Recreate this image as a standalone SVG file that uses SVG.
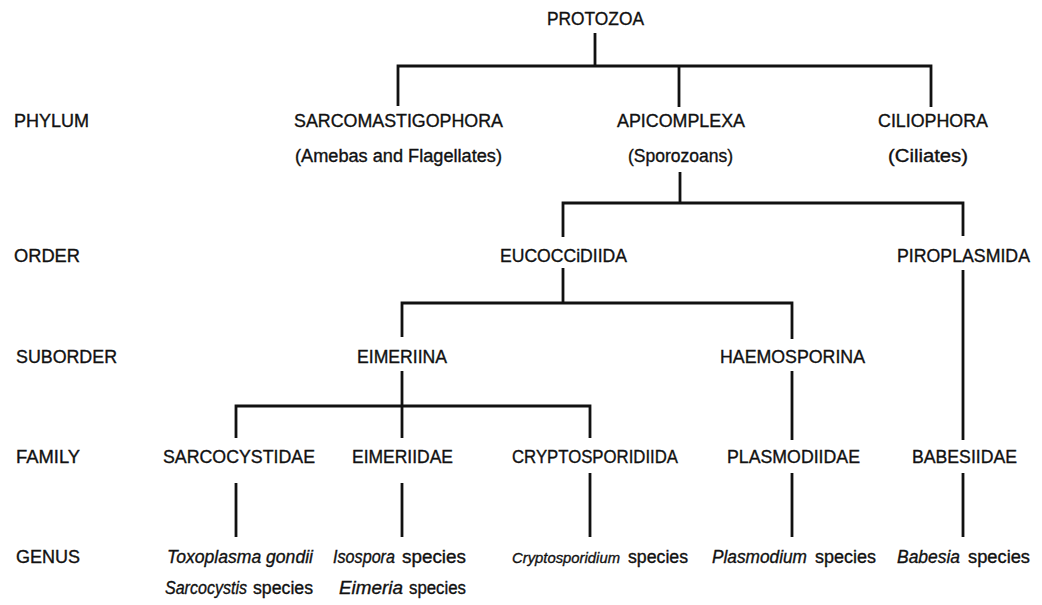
<svg xmlns="http://www.w3.org/2000/svg" width="1042" height="605" viewBox="0 0 1042 605">
<style>
text{font-family:"Liberation Sans",Arial,Helvetica,sans-serif;font-size:18px;fill:#111;stroke:#111;stroke-width:0.35}
.i{font-style:italic}
text.s{font-size:15.5px}
.c path{fill:none;stroke:#111;stroke-width:2.8;stroke-linejoin:miter;stroke-linecap:butt}
</style>
<rect width="1042" height="605" fill="#fff"/>
<g id="ranks">
<text x="14" y="127" textLength="75" lengthAdjust="spacingAndGlyphs">PHYLUM</text>
<text x="14" y="262" textLength="66" lengthAdjust="spacingAndGlyphs">ORDER</text>
<text x="16" y="363" textLength="101" lengthAdjust="spacingAndGlyphs">SUBORDER</text>
<text x="16" y="463" textLength="64" lengthAdjust="spacingAndGlyphs">FAMILY</text>
<text x="16" y="563" textLength="64" lengthAdjust="spacingAndGlyphs">GENUS</text>
</g>
<g class="c" id="connectors">
<path d="M595,33 V66"/>
<path d="M398,106 V66 H931 V107"/>
<path d="M679,66 V107"/>
<path d="M680,172 V203"/>
<path d="M563,237 V203 H963 V236"/>
<path d="M563,268 V303"/>
<path d="M402,337 V303 H792 V339"/>
<path d="M963,270 V440"/>
<path d="M402,371 V438"/>
<path d="M236,438 V406 H590 V438"/>
<path d="M792,371 V440"/>
<path d="M236,483 V537"/>
<path d="M402,483 V537"/>
<path d="M590,473 V537"/>
<path d="M792,473 V537"/>
<path d="M963,473 V537"/>
</g>
<g id="protozoa"><text x="547" y="25" textLength="97" lengthAdjust="spacingAndGlyphs">PROTOZOA</text></g>
<g id="sarcomastigophora">
<text x="294" y="127" textLength="209" lengthAdjust="spacingAndGlyphs">SARCOMASTIGOPHORA</text>
<text x="295" y="162" textLength="207" lengthAdjust="spacingAndGlyphs">(Amebas and Flagellates)</text>
</g>
<g id="apicomplexa">
<text x="617" y="127" textLength="128" lengthAdjust="spacingAndGlyphs">APICOMPLEXA</text>
<text x="628" y="162" textLength="105" lengthAdjust="spacingAndGlyphs">(Sporozoans)</text>
</g>
<g id="ciliophora">
<text x="878" y="127" textLength="110" lengthAdjust="spacingAndGlyphs">CILIOPHORA</text>
<text x="888" y="162" textLength="80" lengthAdjust="spacingAndGlyphs">(Ciliates)</text>
</g>
<g id="eucoccidiida"><text x="500" y="262" textLength="127" lengthAdjust="spacingAndGlyphs">EUCOCCiDIIDA</text></g>
<g id="piroplasmida"><text x="897" y="262" textLength="133" lengthAdjust="spacingAndGlyphs">PIROPLASMIDA</text></g>
<g id="eimeriina"><text x="357" y="363" textLength="90" lengthAdjust="spacingAndGlyphs">EIMERIINA</text></g>
<g id="haemosporina"><text x="720" y="363" textLength="145" lengthAdjust="spacingAndGlyphs">HAEMOSPORINA</text></g>
<g id="sarcocystidae"><text x="163" y="463" textLength="152" lengthAdjust="spacingAndGlyphs">SARCOCYSTIDAE</text></g>
<g id="eimeriidae"><text x="352" y="463" textLength="101" lengthAdjust="spacingAndGlyphs">EIMERIIDAE</text></g>
<g id="cryptosporidiida"><text x="512" y="463" textLength="166" lengthAdjust="spacingAndGlyphs">CRYPTOSPORIDIIDA</text></g>
<g id="plasmodiidae"><text x="727" y="463" textLength="133" lengthAdjust="spacingAndGlyphs">PLASMODIIDAE</text></g>
<g id="babesiidae"><text x="912" y="463" textLength="105" lengthAdjust="spacingAndGlyphs">BABESIIDAE</text></g>
<g id="genus-sarcocystidae">
<text x="167" y="563" class="i" textLength="146" lengthAdjust="spacingAndGlyphs">Toxoplasma gondii</text>
<text x="165" y="594" class="i" textLength="82" lengthAdjust="spacingAndGlyphs">Sarcocystis</text>
<text x="253" y="594" textLength="60" lengthAdjust="spacingAndGlyphs">species</text>
</g>
<g id="genus-eimeriidae">
<text x="333" y="563" class="i" textLength="62" lengthAdjust="spacingAndGlyphs">Isospora</text>
<text x="402" y="563" textLength="64" lengthAdjust="spacingAndGlyphs">species</text>
<text x="339" y="594" class="i" textLength="64" lengthAdjust="spacingAndGlyphs">Eimeria</text>
<text x="409" y="594" textLength="57" lengthAdjust="spacingAndGlyphs">species</text>
</g>
<g id="genus-cryptosporidiida">
<text x="512" y="563" class="i s" textLength="108" lengthAdjust="spacingAndGlyphs">Cryptosporidium</text>
<text x="628" y="563" textLength="60" lengthAdjust="spacingAndGlyphs">species</text>
</g>
<g id="genus-plasmodiidae">
<text x="712" y="563" class="i" textLength="95" lengthAdjust="spacingAndGlyphs">Plasmodium</text>
<text x="815" y="563" textLength="61" lengthAdjust="spacingAndGlyphs">species</text>
</g>
<g id="genus-babesiidae">
<text x="897" y="563" class="i" textLength="63" lengthAdjust="spacingAndGlyphs">Babesia</text>
<text x="968" y="563" textLength="62" lengthAdjust="spacingAndGlyphs">species</text>
</g>
</svg>
